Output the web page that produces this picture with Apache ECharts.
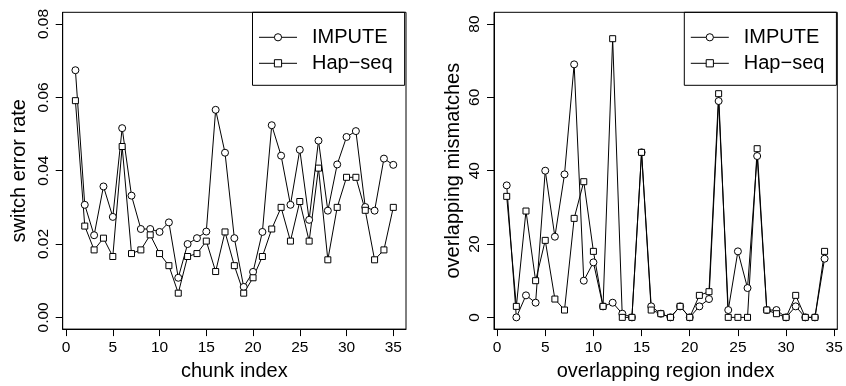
<!DOCTYPE html>
<html>
<head>
<meta charset="utf-8">
<script src="https://cdn.jsdelivr.net/npm/echarts@6/dist/echarts.min.js"></script>
<style>html,body{margin:0;padding:0;background:#fff}#c{width:846px;height:386px}</style>
</head>
<body>
<div id="c"></div>
<script>
// Left panel: switch error rate per chunk
const chunkIndex = [1,2,3,4,5,6,7,8,9,10,11,12,13,14,15,16,17,18,19,20,21,22,23,24,25,26,27,28,29,30,31,32,33,34,35];
const imputeSwitch = [0.0674,0.0307,0.0224,0.0357,0.0274,0.0516,0.0332,0.0241,0.0241,0.0233,0.0259,0.0108,0.0200,0.0216,0.0234,0.0566,0.0449,0.0216,0.0083,0.0124,0.0233,0.0524,0.0441,0.0307,0.0457,0.0266,0.0482,0.0291,0.0417,0.0492,0.0508,0.0301,0.0291,0.0433,0.0416];
const hapseqSwitch = [0.0591,0.0249,0.0184,0.0216,0.0166,0.0466,0.0174,0.0184,0.0225,0.0174,0.0141,0.0066,0.0166,0.0174,0.0208,0.0125,0.0233,0.0141,0.0066,0.0108,0.0166,0.0241,0.0300,0.0208,0.0316,0.0208,0.0407,0.0157,0.0300,0.0382,0.0382,0.0292,0.0157,0.0184,0.0300];
// Right panel: overlapping mismatches per overlapping region
const regionIndex = [1,2,3,4,5,6,7,8,9,10,11,12,13,14,15,16,17,18,19,20,21,22,23,24,25,26,27,28,29,30,31,32,33,34];
const imputeMismatch = [36,0,6,4,40,22,39,69,10,15,3,4,1,0,45,3,1,0,3,0,3,5,59,2,18,8,44,2,2,0,3,0,0,16];
const hapseqMismatch = [33,3,29,10,21,5,2,27,37,18,3,76,0,0,45,2,1,0,3,0,6,7,61,0,0,0,46,2,1,0,6,0,0,18];
// Tick labels
const leftXTicks = [0,5,10,15,20,25,30,35];
const leftYTicks = [0,0.02,0.04,0.06,0.08];
const rightXTicks = [0,5,10,15,20,25,30,35];
const rightYTicks = [0,20,40,60,80];
const seriesNames = ['IMPUTE', 'Hap\u2212seq'];

const FONT = '"Liberation Sans", Arial, Helvetica, sans-serif';
const chart = echarts.init(document.getElementById('c'), null, {renderer: 'canvas'});

function zip(xs, ys) { return xs.map((x, i) => [x, ys[i]]); }

function xAxis(gi, min, max, ticks, name, gap) {
  return {
    type: 'value', gridIndex: gi, min: min, max: max,
    name: name, nameLocation: 'middle', nameGap: gap,
    nameTextStyle: {fontSize: 20, color: '#000', fontFamily: FONT},
    axisLine: {show: true, onZero: false, lineStyle: {color: '#000', width: 1}},
    axisTick: {show: true, length: 7, lineStyle: {color: '#000'}, customValues: ticks},
    axisLabel: {show: true, margin: 11, fontSize: 15.5, color: '#000', fontFamily: FONT, customValues: ticks,
      formatter: v => String(v)},
    splitLine: {show: false}
  };
}
function yAxis(gi, min, max, ticks, name, gap, fmt) {
  return {
    type: 'value', gridIndex: gi, min: min, max: max,
    name: name, nameLocation: 'middle', nameGap: gap,
    nameTextStyle: {fontSize: 20, color: '#000', fontFamily: FONT},
    axisLine: {show: true, onZero: false, lineStyle: {color: '#000', width: 1}},
    axisTick: {show: true, length: 7, lineStyle: {color: '#000'}, customValues: ticks},
    axisLabel: {show: true, margin: 11, rotate: 90, fontSize: 15.5, color: '#000', fontFamily: FONT, customValues: ticks,
      formatter: fmt},
    splitLine: {show: false}
  };
}
function line(name, gi, data, symbol, size) {
  return {
    type: 'line', name: name, xAxisIndex: gi, yAxisIndex: gi, data: data,
    symbol: symbol, symbolSize: size, showAllSymbol: true,
    lineStyle: {color: '#000', width: 1},
    itemStyle: {color: '#fff', borderColor: '#000', borderWidth: 1},
    emphasis: {disabled: true}, animation: false
  };
}
function legend(left, top) {
  return {
    left: left, top: top, orient: 'vertical',
    itemWidth: 38, itemHeight: 9, itemGap: 6,
    padding: [15, 12, 12, 6],
    borderColor: '#000', borderWidth: 1,
    textStyle: {fontSize: 20, color: '#000', fontFamily: FONT, padding: [0, 0, 0, 10]},
    itemStyle: {color: '#fff', borderColor: '#000', borderWidth: 1},
    lineStyle: {color: '#000', width: 1},
    selectedMode: false,
    data: [{name: seriesNames[0]}, {name: seriesNames[1]}]
  };
}

const option = {
  backgroundColor: '#fff',
  animation: false,
  textStyle: {fontFamily: FONT},
  grid: [
    {left: 62.7, top: 12.3, width: 343.3, height: 318.5, show: true, borderColor: '#000', borderWidth: 1, containLabel: false},
    {left: 494, top: 12.3, width: 343.3, height: 318.5, show: true, borderColor: '#000', borderWidth: 1, containLabel: false}
  ],
  xAxis: [
    xAxis(0, -0.36, 36.36, leftXTicks, 'chunk index', 29),
    xAxis(1, -0.32, 35.32, rightXTicks, 'overlapping region index', 29)
  ],
  yAxis: [
    yAxis(0, -0.0032, 0.0832, leftYTicks, 'switch error rate', 33, v => v.toFixed(2)),
    yAxis(1, -3.2, 83.2, rightYTicks, 'overlapping mismatches', 31, v => String(v))
  ],
  legend: [
    legend(252.5, 12.3),
    legend(684.3, 12.3)
  ],
  series: [
    line(seriesNames[0], 0, zip(chunkIndex, imputeSwitch), 'circle', 7),
    line(seriesNames[1], 0, zip(chunkIndex, hapseqSwitch), 'rect', 6),
    line(seriesNames[0], 1, zip(regionIndex, imputeMismatch), 'circle', 7),
    line(seriesNames[1], 1, zip(regionIndex, hapseqMismatch), 'rect', 6)
  ]
};
chart.setOption(option);
</script>
</body>
</html>
